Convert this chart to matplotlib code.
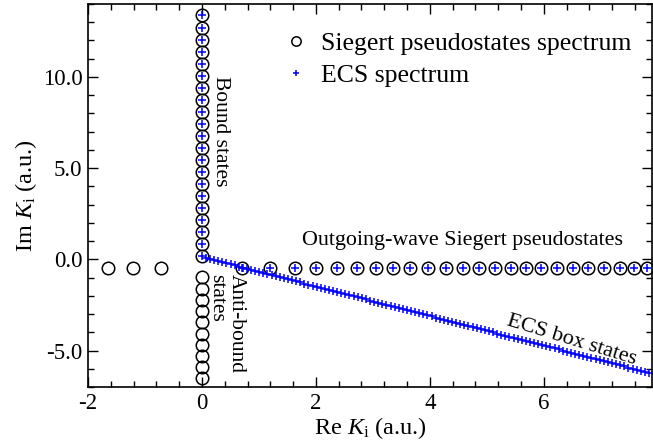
import matplotlib
matplotlib.use("Agg")
import matplotlib.pyplot as plt
from matplotlib.ticker import MultipleLocator, FixedLocator

plt.rcParams['font.family'] = ['Liberation Serif', 'DejaVu Serif']
plt.rcParams['mathtext.fontset'] = 'custom'
plt.rcParams['mathtext.rm'] = 'Liberation Serif'
plt.rcParams['mathtext.it'] = 'Liberation Serif:italic'
plt.rcParams['axes.unicode_minus'] = False

# ---- Siegert pseudostates (circles) ----
bound_re = [0.0] * 21
bound_im = [0.16, 0.82, 1.48, 2.14, 2.80, 3.46, 4.12, 4.78, 5.44, 6.10, 6.76,
            7.42, 8.08, 8.74, 9.40, 10.06, 10.72, 11.38, 12.04, 12.70, 13.40]

antibound_re = [0.0] * 10
antibound_im = [-0.98, -1.60, -2.24, -2.86, -3.45, -4.08, -4.69, -5.31, -5.91, -6.52]

incoming_re = [-1.65, -1.21, -0.72]
incoming_im = [-0.49, -0.49, -0.49]

outgoing_re = [0.71, 1.19, 1.63, 2.01, 2.37, 2.72, 3.05, 3.36, 3.66, 3.97, 4.28,
               4.58, 4.87, 5.14, 5.42, 5.69, 5.96, 6.23, 6.51, 6.78, 7.05, 7.33,
               7.58, 7.81]
outgoing_im = [-0.45, -0.47, -0.47, -0.47, -0.47, -0.47, -0.47, -0.47, -0.47,
               -0.47, -0.47, -0.47, -0.47, -0.47, -0.47, -0.47, -0.47, -0.47,
               -0.47, -0.47, -0.47, -0.47, -0.47, -0.47]

# ---- ECS box states (plus markers along the rotated line) ----
box_re = [0.070, 0.142, 0.214, 0.286, 0.358, 0.430, 0.502, 0.574, 0.646, 0.718,
          0.790, 0.862, 0.934, 1.006, 1.078, 1.150, 1.222, 1.294, 1.366, 1.438,
          1.510, 1.582, 1.654, 1.726, 1.798, 1.870, 1.942, 2.014, 2.086, 2.158,
          2.230, 2.302, 2.374, 2.446, 2.518, 2.590, 2.662, 2.734, 2.806, 2.878,
          2.950, 3.022, 3.094, 3.166, 3.238, 3.310, 3.382, 3.454, 3.526, 3.598,
          3.670, 3.742, 3.814, 3.886, 3.958, 4.030, 4.102, 4.174, 4.246, 4.318,
          4.390, 4.462, 4.534, 4.606, 4.678, 4.750, 4.822, 4.894, 4.966, 5.038,
          5.110, 5.182, 5.254, 5.326, 5.398, 5.470, 5.542, 5.614, 5.686, 5.758,
          5.830, 5.902, 5.974, 6.046, 6.118, 6.190, 6.262, 6.334, 6.406, 6.478,
          6.550, 6.622, 6.694, 6.766, 6.838, 6.910, 6.982, 7.054, 7.126, 7.198,
          7.270, 7.342, 7.414, 7.486, 7.558, 7.630, 7.702, 7.774, 7.846]
box_im = [0.073, 0.015, -0.043, -0.102, -0.160, -0.218, -0.277, -0.335, -0.393, -0.452,
          -0.510, -0.568, -0.626, -0.685, -0.743, -0.801, -0.860, -0.918, -0.976, -1.035,
          -1.093, -1.151, -1.210, -1.268, -1.326, -1.385, -1.443, -1.501, -1.560, -1.618,
          -1.676, -1.734, -1.793, -1.851, -1.909, -1.968, -2.026, -2.084, -2.143, -2.201,
          -2.260, -2.318, -2.376, -2.434, -2.493, -2.551, -2.609, -2.668, -2.726, -2.784,
          -2.843, -2.901, -2.959, -3.018, -3.076, -3.134, -3.193, -3.251, -3.309, -3.368,
          -3.426, -3.484, -3.543, -3.601, -3.659, -3.718, -3.776, -3.834, -3.893, -3.951,
          -4.009, -4.067, -4.126, -4.184, -4.242, -4.301, -4.359, -4.417, -4.476, -4.534,
          -4.592, -4.651, -4.709, -4.767, -4.826, -4.884, -4.942, -5.001, -5.059, -5.117,
          -5.176, -5.234, -5.292, -5.351, -5.409, -5.467, -5.526, -5.584, -5.642, -5.701,
          -5.759, -5.817, -5.875, -5.934, -5.992, -6.050, -6.109, -6.167, -6.225]

x_ticks = [-2, 0, 2, 4, 6]
x_ticklabels = ["-2", "0", "2", "4", "6"]
y_ticks = [-5, 0, 5, 10]
y_ticklabels = ["-5.0", "0.0", "5.0", "10.0"]

sieg_re = incoming_re + bound_re + antibound_re + outgoing_re
sieg_im = incoming_im + bound_im + antibound_im + outgoing_im
ecs_re = bound_re + outgoing_re + box_re
ecs_im = bound_im + outgoing_im + box_im

fig = plt.figure(figsize=(6.53, 4.44), dpi=100)
ax = fig.add_axes([88/653, 57/444, 564/653, 383/444])

ax.plot(sieg_re, sieg_im, linestyle='none', marker='o', markersize=9.0,
        markerfacecolor='none', markeredgecolor='black', markeredgewidth=1.1,
        label='Siegert pseudostates spectrum', clip_on=True)
ax.plot(ecs_re, ecs_im, linestyle='none', marker='+', markersize=6,
        markeredgewidth=1.1, color='#0000ff', label='ECS spectrum')

ax.set_xlim(-2, 7.9)
ax.set_ylim(-7, 14)
ax.xaxis.set_major_locator(FixedLocator(x_ticks))
ax.set_xticklabels(x_ticklabels)
ax.yaxis.set_major_locator(FixedLocator(y_ticks))
ax.set_yticklabels(y_ticklabels)
ax.xaxis.set_minor_locator(MultipleLocator(0.4))
ax.yaxis.set_minor_locator(MultipleLocator(1))
ax.tick_params(which='both', direction='in', top=True, right=True,
               labelsize=16.5, width=1.0)
ax.tick_params(which='major', length=7, pad=4)
ax.tick_params(which='minor', length=4)
for s in ax.spines.values():
    s.set_linewidth(1.2)

ax.set_xlabel(r"Re $K_\mathrm{i}$ (a.u.)", fontsize=17.5, labelpad=1)
ax.set_ylabel(r"Im $K_\mathrm{i}$ (a.u.)", fontsize=17.5, labelpad=3)

ax.text(0.33, 7.0, "Bound states", rotation=-90, fontsize=15.5,
        ha='center', va='center')
ax.text(0.43, -0.8, "Anti-bound\nstates", rotation=-90, fontsize=15.5,
        ha='center', va='top', multialignment='left', linespacing=1.0)
ax.text(4.58, 1.05, "Outgoing-wave Siegert pseudostates", fontsize=15.8,
        ha='center', va='center')
ax.text(6.49, -4.42, "ECS box states", rotation=-17, fontsize=16,
        ha='center', va='center', rotation_mode='anchor')

leg = ax.legend(loc='upper right', bbox_to_anchor=(0.99, 0.968), frameon=False,
                fontsize=18.5, handletextpad=0.35, handlelength=1.2,
                labelspacing=0.35, markerscale=0.75, borderaxespad=0.2)

fig.savefig("out.png", dpi=100)
